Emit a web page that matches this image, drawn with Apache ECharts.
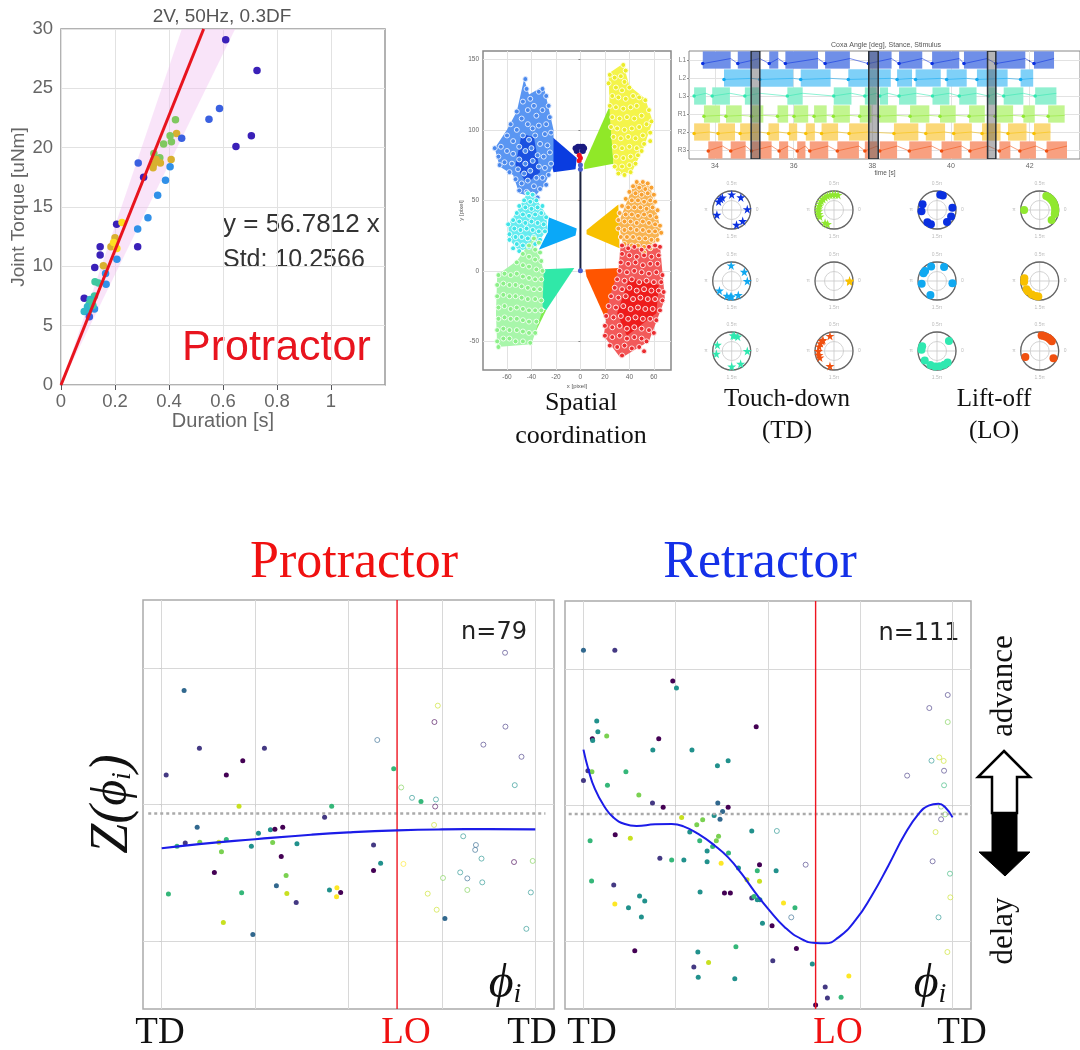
<!DOCTYPE html>
<html><head><meta charset="utf-8">
<style>html,body{margin:0;padding:0;background:#fff}#c{width:1080px;height:1050px;filter:blur(.55px)}</style>
<script src="https://cdn.jsdelivr.net/npm/echarts@6/dist/echarts.min.js"></script>
</head><body><div id="c"></div>
<script>
// ---------- panel A: torque vs duration ----------
const jetPalette=['#3a20b8','#3a60e0','#3090e8','#30b8c8','#40c8a0','#80c860','#d8b030','#fde020'];
const torquePoints=[[.610,29.1,0],[.726,26.5,0],[.587,23.3,1],[.548,22.4,1],[.648,20.1,0],[.705,21.0,0],[.424,22.35,5],[.428,21.2,6],[.447,20.8,1],[.404,21.0,5],[.409,20.5,5],[.380,20.3,5],[.344,19.5,5],[.366,19.15,5],[.408,19.0,6],[.352,19.0,6],[.368,18.7,6],[.343,18.6,6],[.341,18.3,6],[.404,18.4,2],[.286,18.7,1],[.306,17.5,0],[.387,17.25,2],[.358,16.0,2],[.322,14.1,2],[.284,13.15,2],[.206,13.55,0],[.226,13.7,7],[.2,12.4,6],[.2,11.8,7],[.185,11.65,6],[.207,11.5,7],[.195,12.0,7],[.284,11.65,0],[.207,10.6,2],[.145,11.65,0],[.145,10.95,0],[.157,10.05,6],[.125,9.9,0],[.165,9.4,2],[.167,8.5,2],[.126,8.7,4],[.139,8.6,4],[.086,7.3,0],[.124,7.5,4],[.108,7.2,3],[.105,6.85,4],[.114,7.0,4],[.124,6.4,2],[.086,6.2,3],[.102,6.25,3],[.105,5.75,1],[.098,6.6,3],[.118,6.7,4]];
const fitLine=[[0,0],[.5283,30]];
const stdBand=[[0,0],[.4475,30],[.645,30]];
const torqueXTicks=[0,.2,.4,.6,.8,1];
// ---------- panel B: spatial coordination ----------
const fanL1=[[-3,80],[-4,72],[-22,70],[-31,101]];
const fanL2=[[-3,30],[-26,38],[-27,27],[-34,15],[-4,25]];
const fanL3=[[-5,2],[-35,1],[-32,-25],[-28,-28]];
const fanL3b=[[-28,-28],[-41,-51],[-33,-27]];
const fanR1=[[3,72],[3,76],[24,117],[27,76]];
const fanR2=[[5,29],[31,47],[32,16],[5,26]];
const fanR3=[[4,1],[32,2],[22,-37],[5,-4]];
const bodyL1=[[-70,87],[-60,100],[-52,113],[-46,136],[-42,125],[-30,131],[-22,100],[-22,75],[-30,60],[-38,52],[-50,55],[-55,68],[-66,74]];
const coreL1=[[-48,97],[-38,95],[-33,70],[-44,62],[-53,75]];
const bodyL2=[[-43,56],[-52,42],[-59,33],[-58,22],[-50,14],[-36,18],[-27,30],[-28,40],[-37,52]];
const bodyL3=[[-38,24],[-52,7],[-68,-3],[-69,-30],[-68,-54],[-40,-52],[-31,-28],[-30,0]];
const bodyR1=[[23,140],[35,147],[40,131],[53,122],[59,106],[52,88],[42,70],[31,68],[27,75],[24,110]];
const bodyR2=[[31,34],[44,62],[56,63],[66,28],[58,15],[50,12],[35,18]];
const bodyR3=[[33,19],[65,18],[69,-20],[56,-50],[33,-62],[19,-46],[24,-18],[31,0]];
const coreR3=[[40,-5],[64,-10],[62,-30],[38,-46],[30,-30]];
const cloudL1=[[-45,136],[-44,129],[-41,122],[-38,117],[-34,127],[-31,129],[-28,124],[-26,117],[-47,120],[-43,114],[-36,110],[-31,114],[-25,109],[-28,104],[-52,113],[-48,108],[-43,104],[-39,101],[-34,103],[-29,97],[-24,98],[-57,104],[-52,100],[-47,96],[-42,93],[-37,96],[-33,90],[-27,89],[-60,96],[-55,92],[-50,88],[-45,85],[-40,87],[-35,82],[-30,81],[-25,84],[-70,87],[-65,88],[-60,85],[-55,83],[-50,79],[-45,76],[-39,78],[-34,74],[-29,73],[-24,76],[-67,81],[-62,77],[-56,76],[-51,72],[-46,69],[-41,71],[-36,66],[-31,66],[-26,68],[-66,75],[-58,70],[-53,65],[-48,62],[-43,64],[-38,60],[-33,58],[-28,61],[-50,57],[-44,56],[-39,54],[-35,52]];
const cloudL2=[[-43,55],[-39,54],[-46,50],[-41,49],[-36,50],[-50,46],[-45,45],[-40,44],[-35,45],[-31,46],[-52,41],[-47,40],[-42,39],[-37,40],[-32,41],[-28,38],[-55,36],[-50,35],[-45,34],[-40,35],[-35,34],[-30,33],[-59,33],[-54,30],[-49,29],[-44,30],[-39,29],[-34,28],[-29,28],[-58,26],[-53,24],[-48,24],[-43,23],[-38,24],[-33,22],[-58,22],[-52,19],[-47,18],[-42,17],[-37,19],[-55,16],[-50,14]];
const cloudL3=[[-38,23],[-34,20],[-42,18],[-37,15],[-33,13],[-47,12],[-42,10],[-37,8],[-32,7],[-52,6],[-47,4],[-42,3],[-36,1],[-31,0],[-67,-3],[-62,-2],[-57,-3],[-52,-2],[-47,-4],[-42,-5],[-37,-6],[-32,-6],[-68,-10],[-63,-9],[-58,-10],[-53,-10],[-48,-11],[-43,-12],[-38,-13],[-33,-13],[-68,-18],[-63,-17],[-58,-18],[-53,-18],[-48,-19],[-43,-20],[-37,-20],[-32,-21],[-67,-26],[-62,-25],[-57,-27],[-52,-26],[-47,-27],[-42,-28],[-37,-28],[-32,-28],[-67,-34],[-62,-33],[-57,-34],[-52,-34],[-47,-35],[-42,-36],[-36,-36],[-68,-42],[-63,-41],[-58,-42],[-52,-42],[-47,-43],[-42,-44],[-37,-44],[-68,-50],[-63,-48],[-58,-48],[-53,-50],[-47,-50],[-41,-51],[-67,-54]];
const cloudR1=[[35,146],[37,142],[33,138],[24,139],[28,137],[36,134],[23,133],[29,130],[34,128],[40,130],[26,124],[31,123],[37,122],[43,124],[48,123],[24,117],[29,116],[35,115],[41,116],[46,117],[53,121],[26,109],[32,108],[38,109],[44,108],[50,110],[56,114],[25,102],[30,101],[36,100],[42,101],[48,102],[54,104],[58,106],[27,95],[33,94],[39,95],[45,94],[51,96],[57,98],[28,88],[34,87],[40,88],[46,87],[52,90],[57,92],[29,81],[35,80],[41,81],[47,82],[50,85],[28,74],[34,74],[40,75],[45,76],[31,69],[36,68],[41,70]];
const cloudR2=[[46,63],[51,63],[55,62],[43,60],[48,59],[53,58],[58,59],[40,56],[45,55],[50,54],[55,55],[60,54],[37,51],[42,50],[47,50],[52,49],[57,50],[61,49],[34,46],[39,45],[44,45],[49,45],[54,44],[59,45],[63,43],[32,41],[37,40],[42,40],[47,39],[52,40],[57,39],[62,38],[31,36],[36,35],[41,35],[46,34],[51,35],[56,34],[61,33],[65,32],[31,30],[36,29],[41,30],[46,29],[51,29],[56,28],[61,28],[66,27],[33,24],[38,24],[43,24],[48,23],[53,23],[58,22],[63,22],[36,19],[42,18],[47,18],[52,17],[57,16],[60,18],[52,13]];
const cloudR3=[[34,18],[39,16],[44,17],[50,15],[56,17],[61,18],[65,17],[34,12],[40,11],[46,10],[52,11],[58,10],[64,11],[33,6],[39,5],[45,6],[51,4],[57,5],[63,5],[32,0],[38,-1],[44,0],[50,-1],[56,-2],[62,-1],[67,-3],[30,-6],[36,-7],[42,-6],[48,-8],[54,-7],[60,-8],[66,-8],[28,-12],[34,-13],[40,-12],[46,-14],[52,-13],[58,-14],[64,-14],[68,-15],[25,-18],[31,-19],[37,-18],[43,-20],[49,-19],[55,-20],[61,-20],[67,-21],[23,-25],[29,-26],[35,-25],[41,-27],[47,-26],[53,-27],[59,-27],[65,-28],[21,-32],[27,-33],[33,-32],[39,-34],[45,-33],[51,-34],[57,-34],[62,-35],[20,-39],[26,-40],[32,-39],[38,-41],[44,-40],[50,-41],[56,-42],[60,-44],[20,-46],[26,-47],[32,-46],[38,-48],[44,-47],[50,-48],[54,-50],[24,-53],[30,-54],[36,-53],[42,-55],[48,-54],[52,-57],[34,-60]];
const spine=[[0,0],[0,73]];
const headNavy=[[-4,87],[-2,88],[0,88],[2,88],[3,87],[-3,85],[2,85]];
const headRed=[[-1,82],[0,80],[-1,78]];
const headBlue=[[0,75],[0,72],[0,0]];
const spatialXTicks=[-60,-40,-20,0,20,40,60];
const spatialYTicks=[-50,0,50,100,150];
// ---------- panel C: stance raster ----------
const rowLabels=['L1','L2','L3','R1','R2','R3'];
const stanceL1=[[33.69,34.40],[34.58,35.14],[35.38,35.61],[35.79,36.62],[36.80,37.43],[37.90,38.49],[38.68,39.27],[39.52,40.21],[40.33,40.92],[41.14,41.89],[42.11,42.62]];
const stanceL2=[[34.23,34.93],[35.14,35.99],[36.18,36.94],[37.39,38.47],[38.63,39.01],[39.10,39.74],[39.89,40.40],[40.66,41.44],[41.77,42.09]];
const stanceL3=[[33.47,33.77],[33.93,34.38],[34.76,35.14],[35.84,36.23],[37.02,37.47],[37.81,38.11],[38.19,38.40],[38.68,39.12],[39.53,39.96],[40.21,40.65],[40.95,41.16],[41.34,41.84],[42.14,42.68]];
const stanceR1=[[33.72,34.13],[34.28,34.68],[34.93,35.23],[35.59,35.86],[36.01,36.37],[36.52,36.84],[37.01,37.43],[37.68,37.98],[38.17,38.62],[38.96,39.45],[39.72,40.12],[40.46,40.86],[41.12,41.58],[41.84,42.13],[42.47,42.89]];
const stanceR2=[[33.47,33.87],[34.08,34.51],[34.64,35.14],[35.36,35.63],[35.88,36.09],[36.31,36.54],[36.71,37.13],[37.41,37.90],[38.55,39.17],[39.36,39.85],[40.07,40.53],[40.79,41.26],[41.45,41.92],[42.11,42.53]];
const stanceR3=[[33.83,34.19],[34.40,34.78],[34.93,35.44],[35.63,35.86],[36.09,36.30],[36.41,36.88],[37.11,37.66],[37.81,38.13],[38.19,38.63],[38.94,39.51],[39.76,40.27],[40.48,40.95],[41.23,41.51],[41.75,42.16],[42.43,42.95]];
const stanceAll=[stanceL1,stanceL2,stanceL3,stanceR1,stanceR2,stanceR3];
const stimulus=[[34.92,35.14],[37.91,38.15],[40.93,41.14]];
const traceStart=[.2,.08,0,.12,.08,.05];
const traceEnd=[-.08,.02,-.15,.08,0,-.22];
const timeTicks=[34,36,38,40,42];
const rowBand=['#6f8fe8','#7fd0f8','#90f0d0','#c2f590','#fbd878','#f8a080'];
const legColor=['#0a30e0','#10a8f0','#30e8b0','#90e830','#f8c000','#f05010'];
// ---------- panel D: phase dials (angles in degrees) ----------
const dialRadius=.82;
const tdL1=[90,54,127,147,3,198,288,315,135];
const tdR1=[75,85,95,105,115,125,135,145,155,165,175,185,195,205,235,245];
const loL1=[68,78,158,185,232,247,310,335,8];
const loR1=[180,65,55,45,35,25,15,5,355,345,320];
const tdL2=[92,36,0,218,252,265,270,295];
const tdR2=[0,358,2];
const loL2=[140,150,112,63,352,190,245];
const loR2=[170,183,212,222,240,255,265];
const tdL3=[85,67,80,157,190,0,305,270];
const tdR3=[105,135,163,180,205,140,255,150,195];
const loL3=[40,162,175,218,245,263,280,298,313];
const loR3=[77,56,39,83,67,203,332,48];
const dials=[[tdL1,0,0,0],[tdR1,3,1,0],[loL1,0,2,1],[loR1,3,3,1],[tdL2,1,0,0],[tdR2,4,1,0],[loL2,1,2,1],[loR2,4,3,1],[tdL3,2,0,0],[tdR3,5,1,0],[loL3,2,2,1],[loR3,5,3,1]];
const dialX=[731.7,834,937,1039.7];
const dialY=[210,281,351];
const dialLabels={0:'0',90:'0.5π',180:'π',270:'1.5π'};
// ---------- panels E,F: phase response ----------
const viridis=['#440154','#443983','#31688e','#21918c','#35b779','#7ad151','#c8e020','#fde725'];
const proFilled=[[.060,.836,2],[.101,.412,1],[.012,.216,1],[.173,.216,0],[.217,.321,0],[.275,.412,1],[.207,-.012,6],[.455,-.012,4],[.436,-.093,1],[.095,-.167,2],[.063,-.282,1],[.041,-.306,4],[.102,-.277,5],[.153,-.277,6],[.173,-.257,4],[.259,-.211,3],[.291,-.186,3],[.303,-.181,0],[.324,-.167,0],[.240,-.306,3],[.297,-.279,5],[.362,-.287,3],[.160,-.346,5],[.320,-.382,0],[.141,-.498,0],[.333,-.520,5],[.307,-.596,2],[.018,-.657,4],[.214,-.647,4],[.335,-.652,6],[.360,-.718,1],[.449,-.627,3],[.469,-.610,7],[.479,-.645,0],[.468,-.676,7],[.165,-.865,6],[.244,-.953,2],[.567,-.297,1],[.586,-.431,3],[.567,-.485,0],[.621,.262,4],[.694,.022,4],[.758,-.836,2]];
const proOpen=[[.577,.473,2],[.739,.725,6],[.730,.605,0],[.919,1.113,1],[.920,.571,1],[.861,.439,1],[.963,.350,1],[.945,.142,3],[.641,.125,5],[.670,.049,3],[.734,.037,3],[.732,-.015,0],[.729,-.150,6],[.807,-.233,3],[.841,-.297,2],[.839,-.333,2],[.856,-.397,3],[.943,-.422,0],[.993,-.414,5],[.647,-.436,7],[.753,-.539,5],[.799,-.498,3],[.818,-.542,2],[.858,-.571,3],[.818,-.627,5],[.712,-.654,6],[.988,-.645,3],[.736,-.772,6],[.976,-.912,3]];
const proCurve=[[0,-.321],[.1,-.29],[.25,-.255],[.4,-.222],[.5,-.205],[.63,-.19],[.75,-.183],[.875,-.181],[1,-.182]];
const retFilled=[[0,1.137,2],[.085,1.137,1],[.242,.912,0],[.252,.860,3],[.036,.618,3],[.039,.539,3],[.024,.488,0],[.025,.475,3],[.063,.507,5],[.204,.488,0],[.188,.404,3],[.294,.404,3],[.468,.576,0],[.363,.289,3],[.392,.326,3],[.012,.252,1],[.023,.245,5],[0,.181,1],[.115,.245,4],[.065,.145,4],[.150,.074,5],[.187,.015,1],[.216,-.017,0],[.364,.015,2],[.392,-.017,0],[.377,-.047,2],[.354,-.078,3],[.370,-.105,2],[.266,-.091,6],[.323,-.108,5],[.307,-.145,5],[.288,-.199,3],[.456,-.191,3],[.086,-.218,0],[.127,-.245,6],[.018,-.262,4],[.366,-.230,5],[.360,-.262,5],[.315,-.262,4],[.350,-.306,4],[.335,-.338,3],[.393,-.353,4],[.207,-.392,1],[.239,-.404,4],[.272,-.404,3],[.335,-.417,3],[.373,-.429,7],[.477,-.439,0],[.420,-.463,3],[.471,-.483,4],[.522,-.483,3],[.443,-.549,6],[.477,-.561,6],[.022,-.559,4],[.082,-.588,1],[.316,-.640,3],[.382,-.647,0],[.398,-.647,0],[.152,-.669,3],[.166,-.706,3],[.085,-.728,7],[.122,-.755,3],[.157,-.824,3],[.456,-.684,1],[.462,-.672,4],[.471,-.696,3],[.478,-.696,3],[.542,-.721,7],[.573,-.755,4],[.485,-.870,3],[.511,-.887,0],[.139,-1.071,0],[.310,-1.081,3],[.413,-1.042,4],[.339,-1.159,6],[.299,-1.191,1],[.311,-1.267,3],[.410,-1.277,3],[.513,-1.145,1],[.577,-1.056,0],[.620,-1.169,3],[.719,-1.257,7],[.655,-1.338,1],[.661,-1.419,1],[.698,-1.414,4],[.629,-1.471,0]];
const retOpen=[[.987,.809,1],[.937,.713,1],[.987,.610,5],[.943,.326,3],[.964,.350,6],[.976,.324,6],[.977,.252,1],[.877,.216,1],[.977,.145,4],[.969,-.012,5],[.980,-.069,5],[.969,-.105,1],[.954,-.199,6],[.524,-.191,3],[.602,-.439,1],[.946,-.414,1],[.993,-.505,4],[.994,-.679,6],[.962,-.826,3],[.563,-.826,2],[.986,-1.081,6]];
const proCurveEnd=null;
const retCurve=[[0,.407],[.013,.265],[.031,.118],[.058,-.017],[.081,-.091],[.112,-.140],[.144,-.154],[.194,-.142],[.239,-.140],[.271,-.157],[.311,-.213],[.356,-.299],[.392,-.385],[.429,-.507],[.465,-.642],[.501,-.765],[.546,-.900],[.591,-.986],[.629,-1.015],[.655,-1.017],[.691,-.973],[.736,-.851],[.781,-.667],[.826,-.446],[.871,-.214],[.908,-.066],[.935,-.005],[.962,.010],[.980,-.017],[1,-.091]];
const loPhase=[[.63,-1.5],[.63,1.5]];
const loPhaseR=[[.629,-1.5],[.629,1.5]];
const meanDottedPro=[[-.036,-.066],[1.027,-.066]];
const meanDottedRet=[[-.04,-.066],[1.045,-.066]];
const phaseXTicks=[0,.25,.5,.75,1];
const phaseYTicks=[-1,0,1];

const SANS='"Liberation Sans",Arial,sans-serif', SERIF='"Liberation Serif","Times New Roman",serif';
const STAR='path://M50,0 L61,35 98,35 68,57 79,91 50,70 21,91 32,57 2,35 39,35 Z';

function poly(g,pts,color,z){return {type:'custom',coordinateSystem:'cartesian2d',xAxisIndex:g,yAxisIndex:g,z:z||2,silent:true,data:pts,
  renderItem(p,api){return p.dataIndex?null:{type:'polygon',shape:{points:pts.map(q=>api.coord(q))},style:{fill:color}};}};}
function cloud(pts,color,ring){return {type:'scatter',xAxisIndex:1,yAxisIndex:1,z:4,silent:true,data:pts,symbolSize:5,itemStyle:{color:color,borderColor:ring,borderWidth:1,opacity:1}};}
function line(g,pts,color,w,z,extra){return Object.assign({type:'line',xAxisIndex:g,yAxisIndex:g,data:pts,showSymbol:false,symbol:'none',silent:true,z:z||5,lineStyle:{color:color,width:w}},extra||{});}
function pts(g,data,pal,size){return {type:'scatter',xAxisIndex:g,yAxisIndex:g,data:data,symbolSize:size,silent:true,z:3,itemStyle:{color:p=>pal[p.value[2]],opacity:1}};}
function openPts(g,data,pal,size){return {type:'custom',coordinateSystem:'cartesian2d',xAxisIndex:g,yAxisIndex:g,silent:true,z:3,data:data,
  renderItem(p,api){const c=api.coord([api.value(0),api.value(1)]);return {type:'circle',shape:{cx:c[0],cy:c[1],r:size/2},style:{fill:'#fff',stroke:pal[api.value(2)],lineWidth:1,opacity:.62}};}};}

const boxAxis=(o)=>Object.assign({type:'value',axisLine:{show:false},axisTick:{show:false},splitLine:{show:true,lineStyle:{color:'#e2e2e2',width:1}}},o);
const phaseAxes=(g)=>({x:boxAxis({gridIndex:g,min:-.05,max:1.05,axisTick:{show:true,length:2,lineStyle:{color:'#ccc'},customValues:phaseXTicks},axisLabel:{show:false,customValues:phaseXTicks},splitLine:{show:true,lineStyle:{color:'#d8d8d8',width:1}}}),
  y:boxAxis({gridIndex:g,min:-1.5,max:1.5,axisTick:{show:true,length:2,lineStyle:{color:'#ccc'},customValues:phaseYTicks},axisLabel:{show:false,customValues:phaseYTicks},splitLine:{show:true,lineStyle:{color:'#d8d8d8',width:1}}})});
const pa=phaseAxes(3),pb=phaseAxes(4);

const series=[];
// A
series.push(poly(0,stdBand,'rgba(240,190,240,.42)',1));
series.push(pts(0,torquePoints,jetPalette,7.5));
series.push(line(0,fitLine,'#e8141e',3,5));
// B
[[fanL1,'#0a3ce0'],[fanL2,'#0aa8f8'],[fanL3,'#30e8a8'],[fanL3b,'#80ee50'],[fanR1,'#90e828'],[fanR2,'#f8c000'],[fanR3,'#ff5500']].forEach(f=>series.push(poly(1,f[0],f[1],2)));
[[bodyL1,'#5a96f2'],[bodyL2,'#66ecf0'],[bodyL3,'#a8f6aa'],[bodyR1,'#f4f44a'],[bodyR2,'#f8b452'],[bodyR3,'#f25a5a']].forEach(f=>series.push(poly(1,f[0],f[1],3)));
series.push(poly(1,coreL1,'#1a50e0',3),poly(1,coreR3,'#ee1c1c',3));
series.push(cloud(cloudL1,'#4a88ec','#dce9ff'),cloud(cloudL2,'#40e4e8','#eeffff'),cloud(cloudL3,'#8cf088','#f0fff0'),cloud(cloudR1,'#ecec28','#ffffe0'),cloud(cloudR2,'#f8a030','#fff2e0'),cloud(cloudR3,'#ea2c30','#ffe6e6'));
series.push(line(1,spine,'#1a2240',2,6));
series.push({type:'scatter',xAxisIndex:1,yAxisIndex:1,z:7,silent:true,data:headNavy,symbolSize:6,itemStyle:{color:'#1a1a80',opacity:1}});
series.push({type:'scatter',xAxisIndex:1,yAxisIndex:1,z:7,silent:true,data:headRed,symbolSize:5,itemStyle:{color:'#f01020',opacity:1}});
series.push({type:'scatter',xAxisIndex:1,yAxisIndex:1,z:7,silent:true,data:headBlue,symbolSize:5,itemStyle:{color:'#4a60d0',opacity:1}});
// C
stanceAll.forEach((bars,row)=>{
  series.push({type:'custom',coordinateSystem:'cartesian2d',xAxisIndex:2,yAxisIndex:2,silent:true,z:2,clip:true,data:bars,
    renderItem(p,api){const a=api.coord([api.value(0),row-.48]),b=api.coord([api.value(1),row+.48]);
      return {type:'rect',shape:{x:a[0],y:a[1],width:b[0]-a[0],height:b[1]-a[1]},style:{fill:rowBand[row]}};}});
  const tr=[];bars.forEach(b=>{tr.push([b[0],row+traceStart[row]]);tr.push([b[1],row+traceEnd[row]]);});
  series.push({type:'line',xAxisIndex:2,yAxisIndex:2,silent:true,z:3,data:tr,showSymbol:true,symbol:'circle',
    symbolSize:(v,p)=>p.dataIndex%2?0:3.5,itemStyle:{color:legColor[row],opacity:1},lineStyle:{color:legColor[row],width:1,opacity:.55}});
});
series.push({type:'custom',coordinateSystem:'cartesian2d',xAxisIndex:2,yAxisIndex:2,silent:true,z:4,clip:true,data:stimulus,
  renderItem(p,api){const a=api.coord([api.value(0),-.5]),b=api.coord([api.value(1),5.5]);
    return {type:'rect',shape:{x:a[0],y:a[1],width:b[0]-a[0],height:b[1]-a[1]},style:{fill:'rgba(90,90,95,.45)',stroke:'#2a3038',lineWidth:1.5}};}});
// D
dials.forEach((d,i)=>series.push({type:'scatter',coordinateSystem:'polar',polarIndex:i,silent:true,z:3,data:d[0].map(a=>[dialRadius,a]),
  symbol:d[3]?'circle':STAR,symbolSize:d[3]?8:9,itemStyle:{color:legColor[d[1]],opacity:1}}));
// E
series.push(pts(3,proFilled,viridis,5),openPts(3,proOpen,viridis,5));
series.push(line(3,meanDottedPro,'#aaa',2.5,4,{lineStyle:{color:'#aaa',width:2.5,type:[3,3]}}));
series.push(line(3,loPhase,'#ee1520',1.4,6));
series.push(line(3,proCurve,'#1c1ce8',2.2,7,{smooth:true}));
// F
series.push(pts(4,retFilled,viridis,5),openPts(4,retOpen,viridis,5));
series.push(line(4,meanDottedRet,'#aaa',2.5,4,{lineStyle:{color:'#aaa',width:2.5,type:[3,3]}}));
series.push(line(4,loPhaseR,'#ee1520',1.4,6));
series.push(line(4,retCurve,'#1c1ce8',2,7,{smooth:true}));

function label(t,x,y,font,fill,align,extra){return Object.assign({type:'text',x:x,y:y,silent:true,style:{text:t,font:font,fill:fill,textAlign:align||'center',textVerticalAlign:'middle'}},extra||{});}
const phiRich={p:{font:'italic 48px "Liberation Serif",serif',fill:'#111'},i:{font:'italic 28px "Liberation Serif",serif',fill:'#111',padding:[22,0,0,0]}};
const graphics=[
  label('2V, 50Hz, 0.3DF',222,17,'19px '+SANS,'#555'),
  label('y = 56.7812 x',223,225,'26px '+SANS,'#333','left'),
  label('Std: 10.2566',223,260,'25px '+SANS,'#333','left'),
  label('Protractor',182,348,'43px '+SANS,'#e8141e','left'),
  label('Spatial',581,403,'26px '+SERIF,'#111'),
  label('coordination',581,436,'26px '+SERIF,'#111'),
  label('Touch-down',787,399,'25px '+SERIF,'#111'),
  label('(TD)',787,431,'25px '+SERIF,'#111'),
  label('Lift-off',994,399,'25px '+SERIF,'#111'),
  label('(LO)',994,431,'25px '+SERIF,'#111'),
  label('Coxa Angle [deg], Stance, Stimulus',886,45,'7px '+SANS,'#555'),
  label('time [s]',885,173,'6.5px '+SANS,'#555'),
  label('Protractor',354,563,'52px '+SERIF,'#f01010'),
  label('Retractor',760,563,'52px '+SERIF,'#1430e8'),
  label('n=79',494,633,'24px "DejaVu Sans",sans-serif','#222'),
  label('n=111',919,634,'24px "DejaVu Sans",sans-serif','#222'),
  label('TD',160,1033,'37px '+SERIF,'#111'),
  label('LO',406,1033,'37px '+SERIF,'#f01010'),
  label('TD',532,1033,'37px '+SERIF,'#111'),
  label('TD',592,1033,'37px '+SERIF,'#111'),
  label('LO',838,1033,'37px '+SERIF,'#f01010'),
  label('TD',962,1033,'37px '+SERIF,'#111'),
  {type:'text',x:505,y:984,silent:true,style:{text:'{p|ϕ}{i|i}',rich:phiRich,textAlign:'center',textVerticalAlign:'middle'}},
  {type:'text',x:930,y:984,silent:true,style:{text:'{p|ϕ}{i|i}',rich:phiRich,textAlign:'center',textVerticalAlign:'middle'}},
  {type:'text',x:113,y:804,rotation:Math.PI/2,silent:true,style:{text:'{z|Z(}{p|ϕ}{i|i}{z|)}',rich:{z:{font:'italic 54px '+SERIF,fill:'#111'},p:{font:'italic 50px "Liberation Serif",serif',fill:'#111'},i:{font:'italic 28px "Liberation Serif",serif',fill:'#111',padding:[20,0,0,0]}},textAlign:'center',textVerticalAlign:'middle'}},
  label('advance',1004,686,'31px '+SERIF,'#111','center',{rotation:Math.PI/2}),
  label('delay',1004,931,'31px '+SERIF,'#111','center',{rotation:Math.PI/2}),
  {type:'polygon',silent:true,shape:{points:[[1004,751],[1030,777],[1017,777],[1017,813],[992,813],[992,777],[978,777]]},style:{fill:'#fff',stroke:'#000',lineWidth:2.5}},
  {type:'polygon',silent:true,shape:{points:[[992,813],[1017,813],[1017,852],[1030,852],[1005,876],[979,852],[992,852]]},style:{fill:'#000',stroke:'#000',lineWidth:1}}
];

const tickLabel=(fs,c)=>({fontSize:fs,color:c,fontFamily:SANS});
const option={animation:false,backgroundColor:'#fff',
 grid:[
  {left:61,top:29,width:324,height:356,show:true,borderColor:'#999',borderWidth:1.5,backgroundColor:'#fff'},
  {left:483,top:51,width:188,height:319,show:true,borderColor:'#888',borderWidth:1.5},
  {left:689,top:51,width:391,height:108,show:true,borderColor:'#888',borderWidth:1},
  {left:143,top:600,width:411,height:409,show:true,borderColor:'#aaa',borderWidth:1.5},
  {left:565,top:601,width:406,height:408,show:true,borderColor:'#aaa',borderWidth:1.5}],
 xAxis:[
  boxAxis({gridIndex:0,min:0,max:1.2,name:'Duration [s]',nameLocation:'middle',nameGap:24,nameTextStyle:{fontSize:20,color:'#666',fontFamily:SANS},
    axisTick:{customValues:torqueXTicks},axisLabel:Object.assign(tickLabel(18.5,'#666'),{margin:7,customValues:torqueXTicks,formatter:v=>String(v)})}),
  boxAxis({gridIndex:1,min:-79.6,max:74,name:'x [pixel]',nameLocation:'middle',nameGap:13,nameTextStyle:{fontSize:6,color:'#555'},
    axisTick:{show:true,length:2,customValues:spatialXTicks,lineStyle:{color:'#888'}},axisLabel:Object.assign(tickLabel(6.5,'#666'),{margin:4,customValues:spatialXTicks})}),
  boxAxis({gridIndex:2,min:33.34,max:43.28,axisTick:{show:true,length:2,customValues:timeTicks,lineStyle:{color:'#888'}},axisLabel:Object.assign(tickLabel(7,'#666'),{margin:4,customValues:timeTicks})}),
  pa.x,pb.x],
 yAxis:[
  boxAxis({gridIndex:0,min:0,max:30,interval:5,name:'Joint Torque [uNm]',nameLocation:'middle',nameGap:30,nameTextStyle:{fontSize:19,color:'#666',fontFamily:SANS},axisLabel:Object.assign(tickLabel(18.5,'#666'),{margin:8})}),
  boxAxis({gridIndex:1,min:-70.3,max:155.9,name:'y [pixel]',nameLocation:'middle',nameGap:19,nameTextStyle:{fontSize:6,color:'#555'},
    axisTick:{show:true,length:2,customValues:spatialYTicks,lineStyle:{color:'#888'}},axisLabel:Object.assign(tickLabel(6.5,'#666'),{margin:4,customValues:spatialYTicks})}),
  boxAxis({gridIndex:2,min:-.5,max:5.5,inverse:true,axisTick:{show:true,length:2,customValues:[0,1,2,3,4,5],lineStyle:{color:'#888'}},
    axisLabel:Object.assign(tickLabel(6.5,'#777'),{margin:3,customValues:[0,1,2,3,4,5],formatter:v=>rowLabels[v]})}),
  pa.y,pb.y],
 polar:dials.map((d,i)=>({center:[dialX[d[2]],dialY[Math.floor(i/4)]],radius:19})),
 angleAxis:dials.map((d,i)=>({polarIndex:i,min:0,max:360,startAngle:0,clockwise:false,interval:90,axisLine:{lineStyle:{color:'#666',width:1.3}},axisTick:{show:false},
   axisLabel:{fontSize:5,color:'#bbb',margin:5,formatter:v=>dialLabels[v]||''},splitLine:{lineStyle:{color:'#c8c8c8',width:.8}}})),
 radiusAxis:dials.map((d,i)=>({polarIndex:i,min:0,max:1,interval:.5,axisLine:{show:false},axisTick:{show:false},axisLabel:{show:false},splitLine:{lineStyle:{color:'#c8c8c8',width:.8}}})),
 series:series,
 graphic:{elements:graphics}};
const chart=echarts.init(document.getElementById('c'),null,{renderer:'canvas'});
chart.setOption(option);
</script></body></html>
